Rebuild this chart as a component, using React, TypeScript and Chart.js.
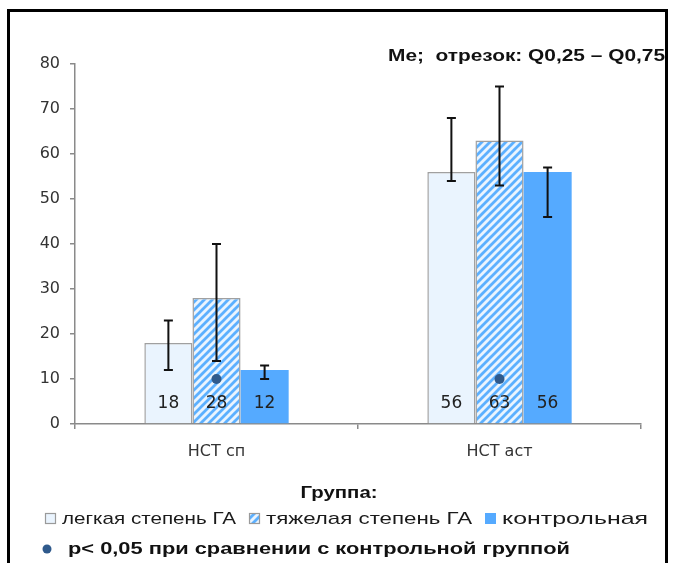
import React, { useEffect, useRef } from "react";
import { Chart, registerables } from "chart.js";

Chart.register(...registerables);

const categories = ["НСТ сп", "НСТ аст"];
const seriesLabels = ["легкая степень ГА", "тяжелая степень ГА", "контрольная"];
const mildValues = [18, 56];
const severeValues = [28, 63];
const controlValues = [12, 56];
const mildQ25 = [12, 54];
const mildQ75 = [23, 68];
const severeQ25 = [14, 53];
const severeQ75 = [40, 75];
const controlQ25 = [10, 46];
const controlQ75 = [13, 57];
const significantMarks = [10, 10];
const significanceLabel = "p< 0,05 при сравнении с контрольной группой";
const legendTitle = "Группа:";
const noteText = "Me;  отрезок: Q0,25 – Q0,75";
const yMin = 0;
const yMax = 80;
const yStep = 10;

const W = 676;
const H = 563;
const AXIS_FONT = "'DejaVu Sans', sans-serif";
const LEGEND_FONT = "'Liberation Sans', Arial, sans-serif";

function makeHatch(): CanvasPattern | string {
  const s = 8;
  const c = document.createElement("canvas");
  c.width = s;
  c.height = s;
  const g = c.getContext("2d");
  if (!g) return "#5aaeff";
  g.fillStyle = "#eaf4fe";
  g.fillRect(0, 0, s, s);
  g.strokeStyle = "#5cb0ff";
  g.lineWidth = 2.8;
  g.beginPath();
  g.moveTo(0, s);
  g.lineTo(s, 0);
  g.moveTo(-2, 2);
  g.lineTo(2, -2);
  g.moveTo(s - 2, s + 2);
  g.lineTo(s + 2, s - 2);
  g.stroke();
  const p = g.createPattern(c, "repeat");
  return p || "#5aaeff";
}

// draw text horizontally stretched so that it spans `width` pixels
function fitText(ctx: CanvasRenderingContext2D, text: string, x: number, y: number, width: number, align: "left" | "right" | "center") {
  const w = ctx.measureText(text).width;
  const sx = width / w;
  let left = x;
  if (align === "right") left = x - width;
  if (align === "center") left = x - width / 2;
  ctx.save();
  ctx.textAlign = "left";
  ctx.translate(left, y);
  ctx.scale(sx, 1);
  ctx.fillText(text, 0, 0);
  ctx.restore();
}

export default function App() {
  const ref = useRef<HTMLCanvasElement | null>(null);

  useEffect(() => {
    const canvas = ref.current;
    if (!canvas) return;
    const hatch = makeHatch();
    const lows = [mildQ25, severeQ25, controlQ25];
    const highs = [mildQ75, severeQ75, controlQ75];

    const overlay = {
      id: "overlay",
      afterDatasetsDraw(chart: any) {
        const ctx = chart.ctx;
        const y = chart.scales.y;
        ctx.save();
        for (let d = 0; d < 3; d++) {
          const meta = chart.getDatasetMeta(d);
          meta.data.forEach((bar: any, i: number) => {
            const x = bar.x;
            const yl = y.getPixelForValue(lows[d][i]);
            const yh = y.getPixelForValue(highs[d][i]);
            ctx.strokeStyle = "#111";
            ctx.lineWidth = 2;
            ctx.beginPath();
            ctx.moveTo(x, yl);
            ctx.lineTo(x, yh);
            ctx.moveTo(x - 4.5, yl);
            ctx.lineTo(x + 4.5, yl);
            ctx.moveTo(x - 4.5, yh);
            ctx.lineTo(x + 4.5, yh);
            ctx.stroke();
            ctx.fillStyle = "#222";
            ctx.font = "17px " + AXIS_FONT;
            ctx.textAlign = "center";
            ctx.textBaseline = "middle";
            const v = chart.data.datasets[d].data[i];
            ctx.fillText(String(v), x, y.getPixelForValue(4.6));
          });
        }
        ctx.restore();
      },
      afterDraw(chart: any) {
        const ctx = chart.ctx;
        ctx.save();
        // frame
        ctx.strokeStyle = "#000";
        ctx.lineWidth = 3;
        ctx.strokeRect(8.5, 10.5, 658, 620);
        ctx.textBaseline = "middle";
        // note
        ctx.fillStyle = "#111";
        ctx.font = "bold 16px " + LEGEND_FONT;
        fitText(ctx, noteText, 665, 57, 277, "right");
        // legend title
        ctx.font = "bold 17px " + LEGEND_FONT;
        ctx.fillStyle = "#111";
        fitText(ctx, legendTitle, 339, 493, 77, "center");
        // legend items
        const ds = chart.data.datasets;
        const boxes = [45, 249, 485];
        const ends = [236, 472, 648];
        ctx.font = "17px " + LEGEND_FONT;
        for (let d = 0; d < 3; d++) {
          const bx = boxes[d];
          const by = 513;
          ctx.fillStyle = ds[d].backgroundColor;
          ctx.fillRect(bx, by, 11, 11);
          if (d < 2) {
            ctx.strokeStyle = "#9a9a9a";
            ctx.lineWidth = 1.2;
            ctx.strokeRect(bx + 0.5, by + 0.5, 10, 10);
          }
          ctx.fillStyle = "#1a1a1a";
          fitText(ctx, ds[d].label, bx + 17, 519, ends[d] - bx - 17, "left");
        }
        // significance legend
        ctx.fillStyle = ds[3].pointBackgroundColor;
        ctx.beginPath();
        ctx.arc(47, 549, 4.5, 0, Math.PI * 2);
        ctx.fill();
        ctx.fillStyle = "#111";
        ctx.font = "bold 17px " + LEGEND_FONT;
        fitText(ctx, ds[3].label, 68, 549, 502, "left");
        ctx.restore();
      },
    };

    const chart = new Chart(canvas, {
      type: "bar",
      data: {
        labels: categories,
        datasets: [
          {
            label: seriesLabels[0],
            data: mildValues,
            backgroundColor: "#eaf4fe",
            borderColor: "#a0a0a0",
            borderWidth: 1.5,
            categoryPercentage: 0.51,
            barPercentage: 1,
          } as any,
          {
            label: seriesLabels[1],
            data: severeValues,
            backgroundColor: hatch,
            borderColor: "#a0a0a0",
            borderWidth: 1.5,
            categoryPercentage: 0.51,
            barPercentage: 1,
          },
          {
            label: seriesLabels[2],
            data: controlValues,
            backgroundColor: "#55aaff",
            borderWidth: 0,
            categoryPercentage: 0.51,
            barPercentage: 1,
          },
          {
            type: "line",
            label: significanceLabel,
            data: significantMarks,
            showLine: false,
            order: -1,
            pointStyle: "circle",
            pointRadius: 5,
            pointBorderWidth: 0,
            pointBackgroundColor: "#2f5a8c",
            pointBorderColor: "#2f5a8c",
          },
        ],
      },
      options: {
        responsive: false,
        animation: false,
        layout: { padding: { top: 64, right: 35, bottom: 0, left: 0 } },
        plugins: {
          legend: { display: false },
          tooltip: { enabled: false },
        },
        scales: {
          x: {
            grid: {
              display: true,
              drawOnChartArea: false,
              drawTicks: true,
              tickLength: 5,
              color: "#8a8a8a",
              lineWidth: 1.5,
              offset: true,
            },
            border: { display: true, color: "#8a8a8a", width: 1.5 },
            ticks: {
              color: "#333",
              font: { family: AXIS_FONT, size: 16 },
              padding: 13,
            },
            afterFit: (s: any) => {
              s.height = H - 424;
            },
          },
          y: {
            min: yMin,
            max: yMax,
            grid: {
              display: true,
              drawOnChartArea: false,
              drawTicks: true,
              tickLength: 5,
              color: "#8a8a8a",
              lineWidth: 1.5,
            },
            border: { display: true, color: "#8a8a8a", width: 1.5 },
            ticks: {
              stepSize: yStep,
              color: "#333",
              font: { family: AXIS_FONT, size: 16 },
              padding: 10,
            },
            afterFit: (s: any) => {
              s.width = 75;
            },
          },
        },
      },
      plugins: [overlay],
    } as any);

    return () => chart.destroy();
  }, []);

  return (
    <div style={{ position: "absolute", left: 0, top: 0, width: W, height: H, background: "#fff" }}>
      <canvas ref={ref} width={W} height={H} style={{ width: W, height: H, display: "block" }} />
    </div>
  );
}
